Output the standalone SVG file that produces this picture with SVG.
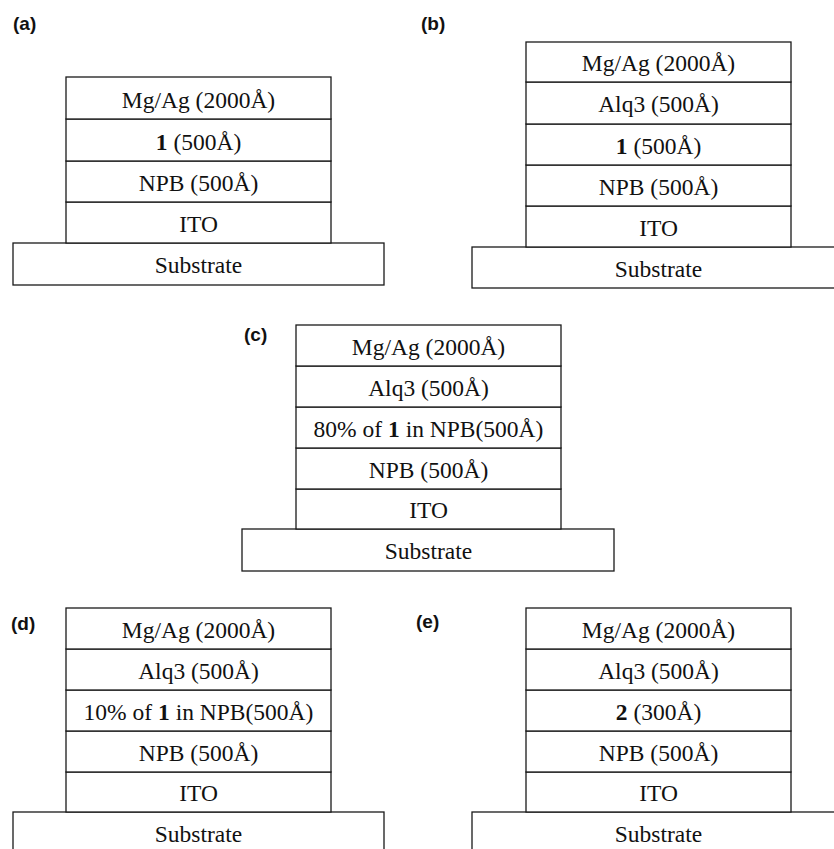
<svg xmlns="http://www.w3.org/2000/svg" width="834" height="849" viewBox="0 0 834 849">
<style>
.box{fill:#fff;stroke:#1a1a1a;stroke-width:1.3}
.t{font-family:"Liberation Serif","Times New Roman",serif;font-size:23.5px;fill:#111;text-anchor:middle}
.b{font-weight:bold}
.lab{font-family:"Liberation Sans",Arial,sans-serif;font-size:19px;font-weight:bold;fill:#111}
</style>
<rect width="834" height="849" fill="#fff"/>

<g id="panel-a">
<text class="lab" x="13" y="30">(a)</text>
<g id="a-substrate"><rect class="box" x="13" y="243" width="371" height="42"/><text class="t" x="198.5" y="273">Substrate</text></g>
<g id="a-ito"><rect class="box" x="66" y="202" width="265" height="41"/><text class="t" x="198.5" y="232">ITO</text></g>
<g id="a-npb"><rect class="box" x="66" y="161" width="265" height="41"/><text class="t" x="198.5" y="191">NPB (500Å)</text></g>
<g id="a-1"><rect class="box" x="66" y="119" width="265" height="42"/><text class="t" x="198.5" y="150"><tspan class="b">1</tspan> (500Å)</text></g>
<g id="a-mgag"><rect class="box" x="66" y="77" width="265" height="42"/><text class="t" x="198.5" y="108">Mg/Ag (2000Å)</text></g>
</g>

<g id="panel-b">
<text class="lab" x="421" y="30">(b)</text>
<g id="b-substrate"><rect class="box" x="472" y="247" width="370" height="41"/><text class="t" x="658.5" y="277">Substrate</text></g>
<g id="b-ito"><rect class="box" x="526" y="206" width="265" height="41"/><text class="t" x="658.5" y="236">ITO</text></g>
<g id="b-npb"><rect class="box" x="526" y="165" width="265" height="41"/><text class="t" x="658.5" y="195">NPB (500Å)</text></g>
<g id="b-1"><rect class="box" x="526" y="124" width="265" height="41"/><text class="t" x="658.5" y="154"><tspan class="b">1</tspan> (500Å)</text></g>
<g id="b-alq3"><rect class="box" x="526" y="82" width="265" height="42"/><text class="t" x="658.5" y="112">Alq3 (500Å)</text></g>
<g id="b-mgag"><rect class="box" x="526" y="42" width="265" height="40"/><text class="t" x="658.5" y="71">Mg/Ag (2000Å)</text></g>
</g>

<g id="panel-c">
<text class="lab" x="244" y="341">(c)</text>
<g id="c-substrate"><rect class="box" x="242" y="529" width="372" height="42"/><text class="t" x="428.5" y="559">Substrate</text></g>
<g id="c-ito"><rect class="box" x="296" y="489" width="265" height="40"/><text class="t" x="428.5" y="518">ITO</text></g>
<g id="c-npb"><rect class="box" x="296" y="448" width="265" height="41"/><text class="t" x="428.5" y="478">NPB (500Å)</text></g>
<g id="c-mix"><rect class="box" x="296" y="407" width="265" height="41"/><text class="t" x="428.5" y="437">80% of <tspan class="b">1</tspan> in NPB(500Å)</text></g>
<g id="c-alq3"><rect class="box" x="296" y="366" width="265" height="41"/><text class="t" x="428.5" y="396">Alq3 (500Å)</text></g>
<g id="c-mgag"><rect class="box" x="296" y="325" width="265" height="41"/><text class="t" x="428.5" y="355">Mg/Ag (2000Å)</text></g>
</g>

<g id="panel-d">
<text class="lab" x="11" y="630">(d)</text>
<g id="d-substrate"><rect class="box" x="13" y="812" width="371" height="50"/><text class="t" x="198.5" y="842">Substrate</text></g>
<g id="d-ito"><rect class="box" x="66" y="772" width="265" height="40"/><text class="t" x="198.5" y="801">ITO</text></g>
<g id="d-npb"><rect class="box" x="66" y="731" width="265" height="41"/><text class="t" x="198.5" y="761">NPB (500Å)</text></g>
<g id="d-mix"><rect class="box" x="66" y="690" width="265" height="41"/><text class="t" x="198.5" y="720">10% of <tspan class="b">1</tspan> in NPB(500Å)</text></g>
<g id="d-alq3"><rect class="box" x="66" y="649" width="265" height="41"/><text class="t" x="198.5" y="679">Alq3 (500Å)</text></g>
<g id="d-mgag"><rect class="box" x="66" y="608" width="265" height="41"/><text class="t" x="198.5" y="638">Mg/Ag (2000Å)</text></g>
</g>

<g id="panel-e">
<text class="lab" x="416" y="628">(e)</text>
<g id="e-substrate"><rect class="box" x="472" y="812" width="370" height="50"/><text class="t" x="658.5" y="842">Substrate</text></g>
<g id="e-ito"><rect class="box" x="526" y="772" width="265" height="40"/><text class="t" x="658.5" y="801">ITO</text></g>
<g id="e-npb"><rect class="box" x="526" y="731" width="265" height="41"/><text class="t" x="658.5" y="761">NPB (500Å)</text></g>
<g id="e-2"><rect class="box" x="526" y="690" width="265" height="41"/><text class="t" x="658.5" y="720"><tspan class="b">2</tspan> (300Å)</text></g>
<g id="e-alq3"><rect class="box" x="526" y="649" width="265" height="41"/><text class="t" x="658.5" y="679">Alq3 (500Å)</text></g>
<g id="e-mgag"><rect class="box" x="526" y="608" width="265" height="41"/><text class="t" x="658.5" y="638">Mg/Ag (2000Å)</text></g>
</g>

<g id="connectors"></g>
</svg>
